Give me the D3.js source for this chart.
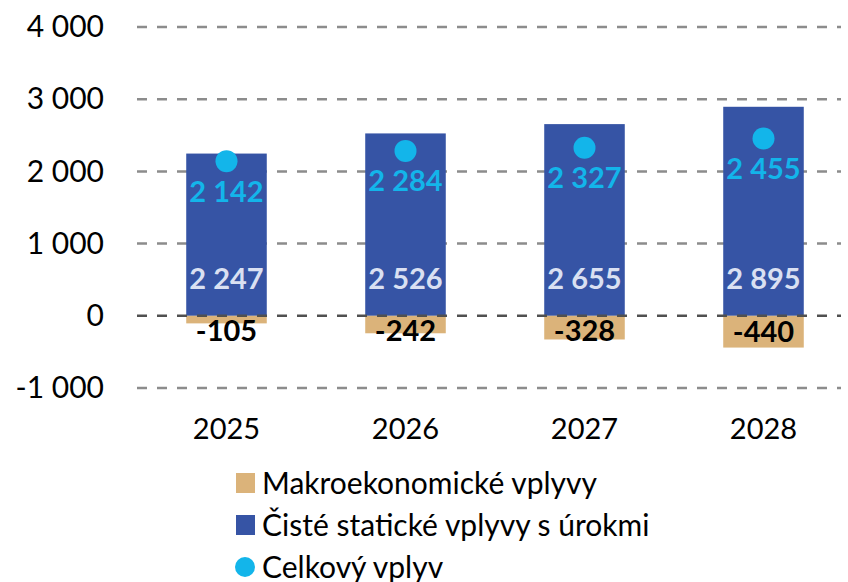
<body style="margin:0;background:#fff">
<script src="https://cdn.jsdelivr.net/npm/d3@7"></script>
<script>
// data
var years = ['2025', '2026', '2027', '2028']
var macro = [-105, -242, -328, -440]        // Makroekonomické vplyvy
var net = [2247, 2526, 2655, 2895]          // Čisté statické vplyvy s úrokmi
var total = [2142, 2284, 2327, 2455]        // Celkový vplyv
var yTicks = [-1000, 0, 1000, 2000, 3000, 4000]
var legendNames = ['Makroekonomické vplyvy', 'Čisté statické vplyvy s úrokmi', 'Celkový vplyv']

var width = 848, height = 582
var colBlue = '#3654a5', colTan = '#dbb37a', colLight = '#13b5ea', colNetLbl = '#dae0f2'
var fontFam = 'Lato, Carlito, "Open Sans", sans-serif'

var loc = d3.formatLocale({decimal: ',', thousands: '\u00a0', grouping: [3], currency: ['', ''], minus: '-'})
var fmt = loc.format(',d')

var svg = d3.select('body').append('svg')
	.attr('width', width)
	.attr('height', height)
	.style('font-family', fontFam)

var x = d3.scaleBand().domain(years).range([137, 853]).paddingInner(0.55).paddingOuter(0.275)
var y = d3.scaleLinear().domain([-1000, 4000]).range([388, 27])

// gridlines
svg.append('g').selectAll('line')
	.data(yTicks.filter(function(d){ return d !== 0 }))
	.enter().append('line')
	.attr('x1', 137).attr('x2', 841)
	.attr('y1', function(d){ return y(d) }).attr('y2', function(d){ return y(d) })
	.attr('stroke', '#8c8c8c').attr('stroke-width', 2.5)
	.attr('stroke-dasharray', '10,10')

// y axis labels
var yAxis = svg.append('g')
	.attr('transform', 'translate(104,0)')
	.call(d3.axisLeft(y).tickValues(yTicks).tickSize(0).tickPadding(0).tickFormat(fmt))
yAxis.select('.domain').remove()
yAxis.selectAll('text').attr('font-size', 30).attr('font-family', fontFam).attr('fill', '#000')

// x axis labels
var xAxis = svg.append('g')
	.attr('transform', 'translate(0,418)')
	.call(d3.axisBottom(x).tickSize(0).tickPadding(0))
xAxis.select('.domain').remove()
xAxis.selectAll('text').attr('font-size', 29).attr('font-family', fontFam).attr('fill', '#000')

// net bars
svg.append('g').selectAll('rect')
	.data(net)
	.enter().append('rect')
	.attr('x', function(d, i){ return x(years[i]) })
	.attr('width', x.bandwidth())
	.attr('y', function(d){ return y(d) })
	.attr('height', function(d){ return y(0) - y(d) })
	.attr('fill', colBlue)

// macro bars
svg.append('g').selectAll('rect')
	.data(macro)
	.enter().append('rect')
	.attr('x', function(d, i){ return x(years[i]) })
	.attr('width', x.bandwidth())
	.attr('y', y(0))
	.attr('height', function(d){ return y(d) - y(0) })
	.attr('fill', colTan)

// zero line
svg.append('line')
	.attr('x1', 137).attr('x2', 841)
	.attr('y1', y(0)).attr('y2', y(0))
	.attr('stroke', '#505050').attr('stroke-width', 2.5)
	.attr('stroke-dasharray', '10,10')

// total points
svg.append('g').selectAll('circle')
	.data(total)
	.enter().append('circle')
	.attr('cx', function(d, i){ return x(years[i]) + x.bandwidth() / 2 })
	.attr('cy', function(d){ return y(d) })
	.attr('r', 11)
	.attr('fill', colLight)

// labels
function label(data, cls, col, yf){
	svg.append('g').selectAll('text.' + cls)
		.data(data)
		.enter().append('text')
		.attr('class', cls)
		.attr('x', function(d, i){ return x(years[i]) + x.bandwidth() / 2 })
		.attr('y', yf)
		.attr('dy', '0.36em')
		.attr('text-anchor', 'middle')
		.attr('font-size', 29)
		.attr('font-weight', 'bold')
		.attr('fill', col)
		.text(function(d){ return fmt(d) })
}
label(net, 'net', colNetLbl, function(d){ return y(0) - 37 })
label(total, 'tot', colLight, function(d){ return y(d) + 30 })
label(macro, 'mac', '#000', function(d){ return Math.max((y(0) + y(d)) / 2, y(0) + 15) })

// legend
var leg = svg.append('g').selectAll('g')
	.data(legendNames)
	.enter().append('g')
	.attr('transform', function(d, i){ return 'translate(236,' + (483 + i * 42) + ')' })
leg.each(function(d, i){
	var g = d3.select(this)
	if (i < 2) {
		g.append('rect').attr('x', 0).attr('y', -10).attr('width', 19).attr('height', 20)
			.attr('fill', i === 0 ? colTan : colBlue)
	} else {
		g.append('circle').attr('cx', 9).attr('cy', 0).attr('r', 10).attr('fill', colLight)
	}
})
leg.append('text')
	.attr('x', 26)
	.attr('dy', '0.36em')
	.attr('font-size', 30)
	.attr('fill', '#000')
	.text(function(d){ return d })
</script>
</body>
